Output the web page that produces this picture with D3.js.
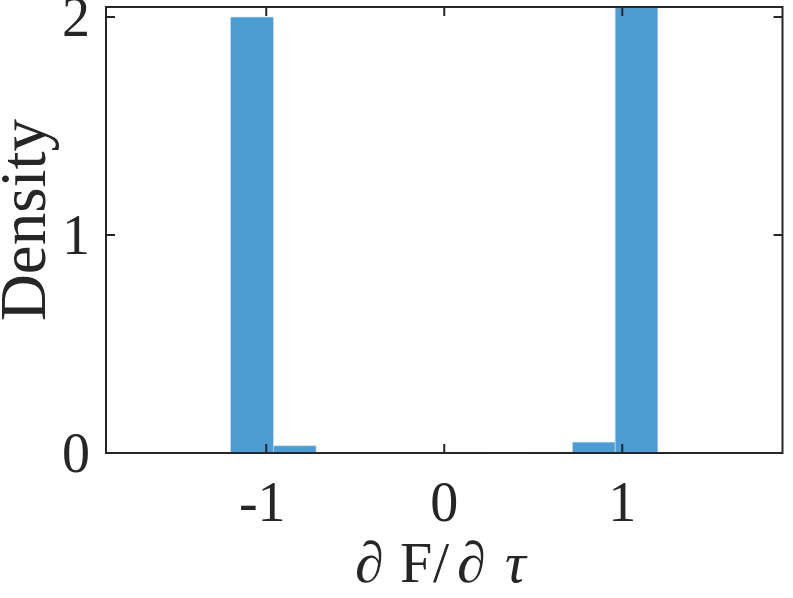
<!DOCTYPE html>
<html><head><meta charset="utf-8">
<script src="https://cdn.jsdelivr.net/npm/d3@7"></script>
<style>body{margin:0;background:#fff;} svg{display:block;}</style>
</head><body>
<script>
const binEdges = [-1.2,-0.96,-0.72,-0.48,-0.24,0,0.24,0.48,0.72,0.96,1.2];
const densities = [2.0,0.033,0,0,0,0.004,0,0.004,0.05,2.07];
const xTicks = [-1,0,1];
const yTicks = [0,1,2];
const xLabelParts = [
  {t:"∂", italic:false, x:355},
  {t:"F", italic:false, x:400},
  {t:"/", italic:false, x:433},
  {t:"∂", italic:false, x:457},
  {t:"τ", italic:true,  x:505}
];
const yLabel = "Density";

const W = 793, H = 598;
const L = 106, R = 782.5, T = 7, B = 453;
const svg = d3.select("body").append("svg").attr("width",W).attr("height",H);
const x = d3.scaleLinear().domain([-1.9,1.9]).range([L, R]);
const y = d3.scaleLinear().domain([0,2.046]).range([B, T]);

svg.append("clipPath").attr("id","clip").append("rect")
  .attr("x",L).attr("y",T).attr("width",R-L).attr("height",B-T);

const bins = densities.map((d,i)=>({x0:binEdges[i],x1:binEdges[i+1],v:d}));
svg.append("g").attr("clip-path","url(#clip)").selectAll("rect").data(bins.filter(b=>b.v>0)).join("rect")
  .attr("x",d=>x(d.x0)).attr("width",d=>x(d.x1)-x(d.x0))
  .attr("y",d=>y(d.v)).attr("height",d=>y(0)-y(d.v))
  .attr("fill","#4d9dd4").attr("stroke","#c9dff0").attr("stroke-width",0.6);

const font = "'Liberation Serif', 'Times New Roman', Times, serif";
const axc = "#262626";
svg.append("rect").attr("x",L).attr("y",T).attr("width",R-L).attr("height",B-T)
  .attr("fill","none").attr("stroke",axc).attr("stroke-width",2);

const tl = 9;
xTicks.forEach(t=>{
  svg.append("line").attr("x1",x(t)).attr("x2",x(t)).attr("y1",B).attr("y2",B-tl).attr("stroke",axc).attr("stroke-width",2);
  svg.append("line").attr("x1",x(t)).attr("x2",x(t)).attr("y1",T).attr("y2",T+tl).attr("stroke",axc).attr("stroke-width",2);
  svg.append("text").attr("x",x(t) - (t<0?4:0)).attr("y",521).attr("text-anchor","middle")
    .attr("font-family",font).attr("font-size",56).attr("fill",axc).text(t);
});
yTicks.forEach(t=>{
  svg.append("line").attr("x1",L).attr("x2",L+tl).attr("y1",y(t)).attr("y2",y(t)).attr("stroke",axc).attr("stroke-width",2);
  svg.append("line").attr("x1",R).attr("x2",R-tl).attr("y1",y(t)).attr("y2",y(t)).attr("stroke",axc).attr("stroke-width",2);
  svg.append("text").attr("x",90).attr("y",y(t)+19).attr("text-anchor","end")
    .attr("font-family",font).attr("font-size",56).attr("fill",axc).text(t);
});
const xl = svg.append("text").attr("y",582)
  .attr("font-family",font).attr("font-size",58).attr("fill",axc);
xLabelParts.forEach(p=>{
  xl.append("tspan").attr("x",p.x).attr("font-style",p.italic?"italic":"normal").text(p.t);
});
svg.append("text").attr("transform","translate(45,220) rotate(-90)").attr("text-anchor","middle")
  .attr("font-family",font).attr("font-size",65).attr("fill",axc).text(yLabel);
</script>
</body></html>
